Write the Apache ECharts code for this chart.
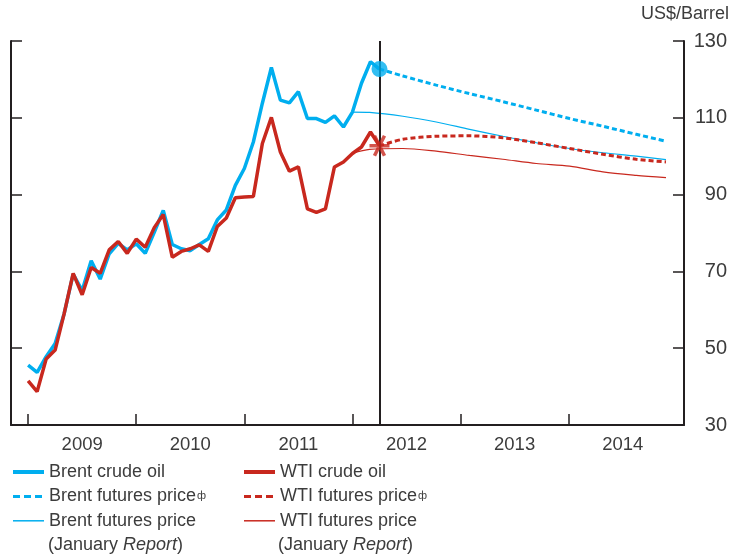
<!DOCTYPE html>
<html>
<head>
<meta charset="utf-8">
<script src="https://cdn.jsdelivr.net/npm/echarts@6/dist/echarts.min.js"></script>
<style>
html, body { margin: 0; padding: 0; background: #fff; }
#main { width: 730px; height: 557px; }
</style>
</head>
<body>
<div id="main"></div>
<script>
// months counted from Jan 2009 (0 = Jan 2009)
var yearTicks = [0, 12, 24, 36, 48, 60];
var yearLabelPos = [6, 18, 30, 42, 54, 66];
var yearLabels = ['2009', '2010', '2011', '2012', '2013', '2014'];

// monthly averages Jan 2009 - Apr 2012
var brentCrude = [45.6, 43.7, 47.8, 51.2, 59, 69.3, 65, 72.8, 68, 74.6, 77.3, 75.6,
	77.2, 74.7, 80.2, 85.9, 77, 75.9, 75.4, 77, 78.5, 83.4, 86, 92.4,
	96.8, 103.7, 113.8, 123.1, 114.6, 113.9, 116.8, 109.8, 109.8, 108.8, 110.5, 107.6,
	111.5, 119, 124.6, 122.7];
var wtiCrude = [41.5, 38.7, 47.2, 49.5, 59, 69.5, 63.9, 71, 69.5, 75.6, 77.8, 74.7,
	78.4, 76.3, 81.4, 84.8, 73.7, 75.2, 75.9, 76.9, 75.2, 81.7, 83.9, 89.2,
	89.4, 89.5, 103.3, 110.1, 101.1, 96.1, 97.2, 86.3, 85.4, 86.3, 97.2, 98.5,
	100.7, 102.4, 106.3, 102.7];

// futures curves (month positions)
var futMonths = [39, 41.6, 45.3, 49, 52.7, 56.4, 60.1, 63.8, 67.5, 70.8];
var brentFut = [122.7, 120.9, 118.5, 116.3, 114.2, 112, 109.8, 107.8, 105.7, 103.9];
var wtiFut = [102.7, 104.4, 105.2, 105.3, 104.8, 103.5, 102, 100.5, 99.2, 98.5];

var janMonths = [36, 37.9, 41.6, 45.3, 49, 52.7, 56.4, 60.1, 63.8, 67.5, 70.8];
var brentJan = [111.5, 111.4, 110.4, 108.9, 107, 105.2, 103.5, 102, 100.9, 100, 99.1];
var wtiJan = [100.8, 101.8, 102, 101.3, 100.2, 99.2, 98.1, 97.4, 95.9, 95, 94.4];

var reportMonth = 39;

var BLUE = '#00aeef', RED = '#c8281e', INK = '#231f20', TXT = '#3c3c3c';
var FONT = 'Liberation Sans';

function pairs(xs, ys){
	var res = [];
	for (var i = 0; i < ys.length; i++) {
		res.push([xs ? xs[i] : i, ys[i]]);
	}
	return res;
}

var myChart = echarts.init(document.getElementById('main'));

var legendFmt = function(name){
	if (name.indexOf('(January') > -1) return name.replace(' (January Report)', '');
	if (name.indexOf('futures') > -1) return name + '{s|ф}';
	return name;
};
var legendText = {
	fontSize: 18, color: TXT, fontFamily: FONT,
	rich: { s: { fontSize: 11, color: TXT, fontFamily: FONT, padding: [0, 0, 0, 1] } }
};
var legendBase = {
	orient: 'vertical', top: 463, padding: 0,
	itemWidth: 31, itemHeight: 14, itemGap: 6.4,
	itemStyle: { opacity: 0 },
	formatter: legendFmt, textStyle: legendText, selectedMode: false
};
function legendItems(prefix, color){
	return [
		{ name: prefix + ' crude oil', lineStyle: { color: color, width: 4, type: 'solid' } },
		{ name: prefix + ' futures price', lineStyle: { color: color, width: 3, type: [7, 4] } },
		{ name: prefix + ' futures price (January Report)', lineStyle: { color: color, width: 1.5, type: 'solid' } }
	];
}

option = {
	animation: false,
	title: {
		text: 'US$/Barrel',
		right: 1, top: 5, padding: 0,
		textStyle: { fontSize: 18, fontWeight: 'normal', color: TXT, fontFamily: FONT }
	},
	grid: { left: 11, right: 45, top: 41, bottom: 132 },
	legend: [
		echarts.util.merge({ left: 11, data: legendItems('Brent', BLUE) }, legendBase),
		echarts.util.merge({ left: 242, data: legendItems('WTI', RED) }, legendBase)
	],
	graphic: [
		{ type: 'text', left: 48, top: 536,
			style: { text: '(January {i|Report})', fontSize: 18, fill: TXT, fontFamily: FONT,
				rich: { i: { fontStyle: 'italic', fontSize: 18, fill: TXT, fontFamily: FONT } } } },
		{ type: 'text', left: 278, top: 536,
			style: { text: '(January {i|Report})', fontSize: 18, fill: TXT, fontFamily: FONT,
				rich: { i: { fontStyle: 'italic', fontSize: 18, fill: TXT, fontFamily: FONT } } } }
	],
	xAxis: {
		type: 'value',
		min: -1.9, max: 72.8,
		axisLine: { onZero: false, lineStyle: { color: INK, width: 2 } },
		axisTick: { inside: true, length: 11, customValues: yearTicks, lineStyle: { color: INK, width: 1.5 } },
		axisLabel: {
			customValues: yearLabelPos,
			formatter: function(v){ return yearLabels[yearLabelPos.indexOf(v)]; },
			fontSize: 18.5, color: TXT, margin: 10, fontFamily: FONT
		},
		splitLine: { show: false }
	},
	yAxis: [
		{
			type: 'value', position: 'left', min: 30, max: 130, interval: 20,
			axisLine: { show: true, onZero: false, lineStyle: { color: INK, width: 2 } },
			axisTick: { show: true, inside: true, length: 11, lineStyle: { color: INK, width: 1.5 } },
			axisLabel: { show: false },
			splitLine: { show: false }
		},
		{
			type: 'value', position: 'right', min: 30, max: 130, interval: 20,
			axisLine: { show: true, onZero: false, lineStyle: { color: INK, width: 2 } },
			axisTick: { show: true, inside: true, length: 11, lineStyle: { color: INK, width: 1.5 } },
			axisLabel: { fontSize: 20, color: TXT, margin: 43, align: 'right', fontFamily: FONT },
			splitLine: { show: false }
		}
	],
	series: [
		{
			name: 'Brent futures price (January Report)', type: 'line', symbol: 'none', smooth: 0.3,
			data: pairs(janMonths, brentJan),
			lineStyle: { color: BLUE, width: 1.2 }, itemStyle: { color: BLUE }
		},
		{
			name: 'WTI futures price (January Report)', type: 'line', symbol: 'none', smooth: 0.3,
			data: pairs(janMonths, wtiJan),
			lineStyle: { color: RED, width: 1.2 }, itemStyle: { color: RED }
		},
		{
			name: 'Brent crude oil', type: 'line', symbol: 'none',
			data: pairs(null, brentCrude),
			lineStyle: { color: BLUE, width: 3.5 }, itemStyle: { color: BLUE },
			markLine: {
				silent: true, symbol: 'none', label: { show: false },
				lineStyle: { color: INK, width: 2, type: 'solid' },
				data: [{ xAxis: reportMonth }]
			}
		},
		{
			name: 'WTI crude oil', type: 'line', symbol: 'none',
			data: pairs(null, wtiCrude),
			lineStyle: { color: RED, width: 3.5 }, itemStyle: { color: RED }
		},
		{
			name: 'Brent futures price', type: 'line', symbol: 'none', smooth: 0.3,
			data: pairs(futMonths, brentFut),
			lineStyle: { color: BLUE, width: 3, type: [5, 3] }, itemStyle: { color: BLUE }
		},
		{
			name: 'WTI futures price', type: 'line', symbol: 'none', smooth: 0.3,
			data: pairs(futMonths, wtiFut),
			lineStyle: { color: RED, width: 3, type: [5, 3] }, itemStyle: { color: RED }
		},
		{
			name: 'Brent marker', type: 'scatter', z: 5, silent: true,
			symbol: 'circle', symbolSize: 16,
			data: [[reportMonth, brentFut[0]]],
			itemStyle: { color: BLUE }
		},
		{
			name: 'WTI marker', type: 'scatter', z: 5, silent: true,
			symbol: 'path://M-10,0L10,0M-5,-8.66L5,8.66M-5,8.66L5,-8.66', symbolSize: 20,
			data: [[reportMonth, wtiFut[0]]],
			itemStyle: { color: 'rgba(0,0,0,0)', borderColor: RED, borderWidth: 3.5 }
		}
	]
};

myChart.setOption(option);
</script>
</body>
</html>
